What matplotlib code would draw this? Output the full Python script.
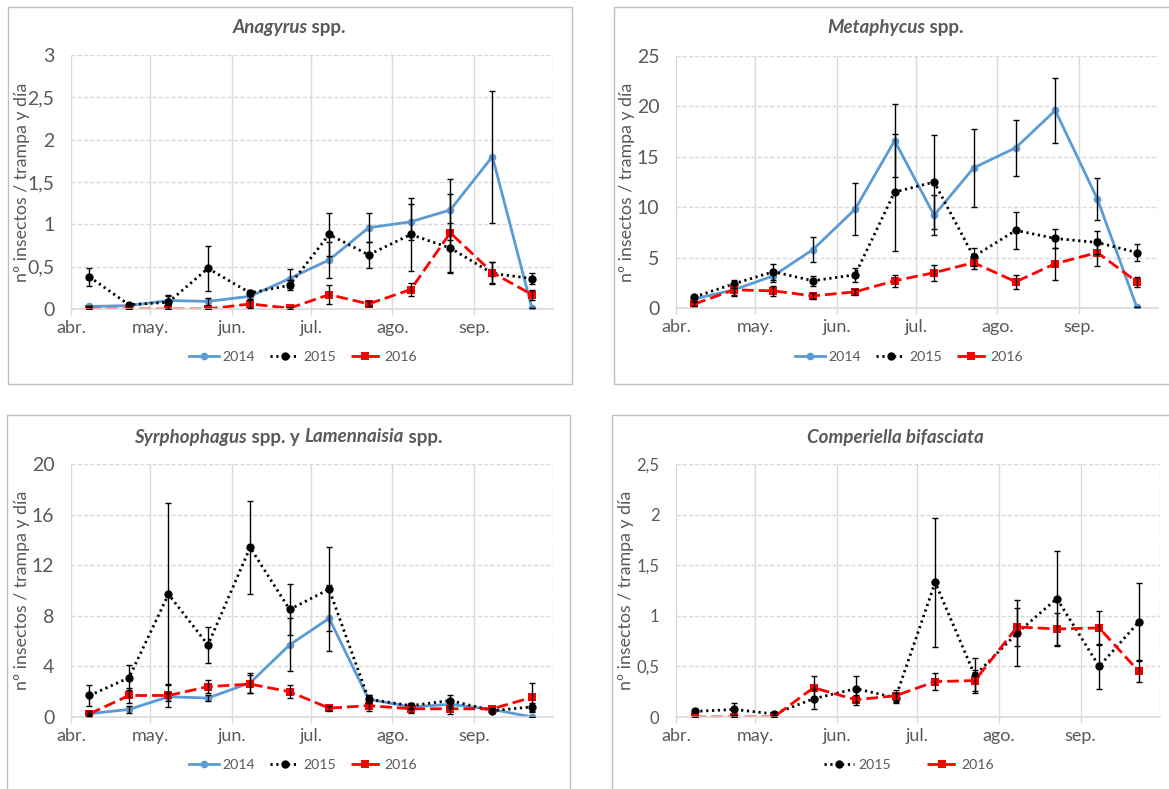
import matplotlib
matplotlib.use("Agg")
import matplotlib.pyplot as plt
import numpy as np
from matplotlib.patches import Rectangle

# sampling dates (dummy year, only month/day matter)
dates = np.array(["2015-04-08", "2015-04-23", "2015-05-08", "2015-05-23",
                  "2015-06-08", "2015-06-23", "2015-07-08", "2015-07-23",
                  "2015-08-08", "2015-08-23", "2015-09-08", "2015-09-23"],
                 dtype="datetime64[D]")
month_labels = ["abr.", "may.", "jun.", "jul.", "ago.", "sep."]

# Anagyrus spp.
ana_2014 = [0.03, 0.04, 0.10, 0.09, 0.15, 0.36, 0.58, 0.96, 1.03, 1.17, 1.80, 0.01]
ana_2014_err = [0.01, 0.01, 0.05, 0.04, 0.03, 0.11, 0.21, 0.17, 0.21, 0.36, 0.78, 0.0]
ana_2015 = [0.38, 0.05, 0.08, 0.48, 0.19, 0.28, 0.88, 0.64, 0.88, 0.72, 0.42, 0.36]
ana_2015_err = [0.11, 0.02, 0.08, 0.27, 0.04, 0.06, 0.25, 0.15, 0.43, 0.30, 0.13, 0.07]
ana_2016 = [0.0, 0.0, 0.0, 0.0, 0.06, 0.01, 0.17, 0.06, 0.23, 0.90, 0.43, 0.17]
ana_2016_err = [0.0, 0.0, 0.0, 0.0, 0.05, 0.01, 0.11, 0.03, 0.08, 0.46, 0.12, 0.06]

# Metaphycus spp.
met_2014 = [0.9, 1.8, 3.2, 5.8, 9.8, 16.6, 9.2, 13.9, 15.9, 19.6, 10.8, 0.05]
met_2014_err = [0.2, 0.5, 0.6, 1.2, 2.6, 3.6, 2.0, 3.9, 2.8, 3.2, 2.1, 0.0]
met_2015 = [1.1, 2.4, 3.6, 2.7, 3.3, 11.5, 12.5, 5.1, 7.7, 6.9, 6.5, 5.5]
met_2015_err = [0.2, 0.4, 0.8, 0.5, 0.7, 5.8, 4.7, 0.9, 1.8, 0.9, 1.1, 0.8]
met_2016 = [0.4, 1.8, 1.7, 1.2, 1.6, 2.7, 3.5, 4.5, 2.6, 4.4, 5.5, 2.6]
met_2016_err = [0.2, 0.6, 0.5, 0.3, 0.3, 0.6, 0.8, 0.6, 0.7, 1.6, 1.3, 0.5]

# Syrphophagus spp. y Lamennaisia spp.
syr_2014 = [0.26, 0.6, 1.6, 1.5, 2.7, 5.7, 7.8, 1.4, 0.8, 1.0, 0.6, 0.0]
syr_2014_err = [0.2, 0.3, 0.3, 0.2, 0.8, 2.1, 2.6, 0.3, 0.2, 0.3, 0.1, 0.0]
syr_2015 = [1.7, 3.1, 9.7, 5.7, 13.4, 8.5, 10.1, 1.4, 0.9, 1.3, 0.5, 0.8]
syr_2015_err = [0.8, 1.0, 7.2, 1.4, 3.7, 2.0, 3.3, 0.3, 0.2, 0.4, 0.1, 0.3]
syr_2016 = [0.25, 1.7, 1.7, 2.4, 2.6, 2.0, 0.7, 0.9, 0.65, 0.65, 0.65, 1.55]
syr_2016_err = [0.1, 0.6, 0.9, 0.5, 0.7, 0.5, 0.2, 0.4, 0.3, 0.45, 0.1, 1.15]

# Comperiella bifasciata
com_2015 = [0.055, 0.075, 0.03, 0.18, 0.28, 0.19, 1.33, 0.41, 0.83, 1.17, 0.50, 0.94]
com_2015_err = [0.02, 0.06, 0.01, 0.10, 0.13, 0.05, 0.64, 0.17, 0.33, 0.47, 0.22, 0.38]
com_2016 = [0.0, 0.0, 0.0, 0.29, 0.17, 0.21, 0.35, 0.36, 0.89, 0.87, 0.88, 0.45]
com_2016_err = [0.0, 0.0, 0.0, 0.12, 0.05, 0.06, 0.08, 0.10, 0.19, 0.16, 0.17, 0.10]

plt.rcParams["font.family"] = ["Lato", "DejaVu Sans"]
GREY = "#595959"
GRID = "#D9D9D9"
W, H = 1169, 789

STYLE = {
    "2014": dict(color="#5B9BD5", linestyle="-", linewidth=2.0, marker="o",
                 markersize=5.5),
    "2015": dict(color="black", linestyle=(0, (0.8, 1.3)), linewidth=2.0,
                 marker="o", markersize=6),
    "2016": dict(color="#FF0000", linestyle=(0, (4.2, 1.8)), linewidth=2.0,
                 marker="s", markersize=6),
}


def fig_box(x0, y0, x1, y1):
    return [x0 / W, 1 - y1 / H, (x1 - x0) / W, (y1 - y0) / H]


def draw_title(fig, pieces, cx, cy):
    # title with mixed italic / upright parts, centred as a whole
    r = fig.canvas.get_renderer()
    texts = []
    for s, it in pieces:
        t = fig.text(0, 1 - cy / H, s, fontsize=13.5, fontweight="bold",
                     style="italic" if it else "normal", color=GREY,
                     ha="left", va="center")
        texts.append(t)
    widths = [t.get_window_extent(r).width for t in texts]
    x = cx - sum(widths) / 2
    for t, w in zip(texts, widths):
        t.set_x(x / W)
        x += w


def panel(fig, axbox, frame, title, title_xy, series, yticks, ylabels,
          leg_xy, colspacing, tick_fs=13):
    fig.add_artist(Rectangle((frame[0] / W, 1 - frame[3] / H),
                             (frame[2] - frame[0]) / W, (frame[3] - frame[1]) / H,
                             transform=fig.transFigure, fill=False,
                             edgecolor="#BFBFBF", linewidth=1.0))
    ax = fig.add_axes(fig_box(*axbox))
    months = np.arange("2015-04", "2015-11", dtype="datetime64[M]").astype("datetime64[D]")
    for m in months[:-1]:
        ax.axvline(m, color=GRID, linewidth=1.0, zorder=0)
    ax.axvline(months[-1], color=GRID, linewidth=1.0, linestyle=(0, (3, 1.5)), zorder=0)
    for y in yticks[1:]:
        ax.axhline(y, color=GRID, linewidth=1.0, linestyle=(0, (3, 1.5)), zorder=0)

    for year, vals, err in series:
        st = STYLE[year]
        ax.errorbar(dates, vals, yerr=err, fmt="none", ecolor="black",
                    elinewidth=1.0, capsize=2.5, capthick=1.0, zorder=3)
        ax.plot(dates, vals, label=year, zorder=2, markeredgewidth=0, **st)

    ax.set_xlim(months[0], months[-1])
    ax.set_ylim(yticks[0], yticks[-1])
    ax.set_xticks(months[:-1])
    ax.set_xticklabels(month_labels)
    ax.set_yticks(yticks)
    ax.set_yticklabels(ylabels)
    for s in ["top", "right", "left"]:
        ax.spines[s].set_visible(False)
    ax.spines["bottom"].set_color(GRID)
    ax.spines["bottom"].set_linewidth(1.2)
    ax.tick_params(axis="x", colors=GRID, length=4, width=1.0, labelcolor=GREY,
                   labelsize=13, pad=4)
    ax.tick_params(axis="y", length=0, labelcolor=GREY, labelsize=tick_fs, pad=12)
    ax.set_ylabel("nº insectos / trampa y día", color=GREY, fontsize=12.8)
    ax.yaxis.set_label_coords(-0.086, 0.5)
    ax.patch.set_alpha(0)

    draw_title(fig, title, *title_xy)
    ax.legend(loc="center", bbox_to_anchor=(leg_xy[0] / W, 1 - leg_xy[1] / H),
              bbox_transform=fig.transFigure, ncol=len(series), frameon=False,
              fontsize=10.2, labelcolor=GREY, handlelength=2.1, handletextpad=0.3,
              columnspacing=colspacing)
    return ax


fig = plt.figure(figsize=(W / 100, H / 100), dpi=100)

panel(fig, (71, 55, 553, 309), (8, 7, 572, 384),
      [("Anagyrus", True), (" spp.", False)], (289, 28),
      [("2014", ana_2014, ana_2014_err), ("2015", ana_2015, ana_2015_err),
       ("2016", ana_2016, ana_2016_err)],
      [0, 0.5, 1, 1.5, 2, 2.5, 3], ["0", "0,5", "1", "1,5", "2", "2,5", "3"],
      (303, 357), 1.0, tick_fs=14)

panel(fig, (676, 56, 1158, 308), (614, 7, 1176, 384),
      [("Metaphycus", True), (" spp.", False)], (895, 28),
      [("2014", met_2014, met_2014_err), ("2015", met_2015, met_2015_err),
       ("2016", met_2016, met_2016_err)],
      [0, 5, 10, 15, 20, 25], ["0", "5", "10", "15", "20", "25"],
      (909, 357), 1.0, tick_fs=14)

panel(fig, (71, 464, 553, 717), (7, 415, 570, 795),
      [("Syrphophagus", True), (" spp. y ", False), ("Lamennaisia", True),
       (" spp.", False)], (288, 437),
      [("2014", syr_2014, syr_2014_err), ("2015", syr_2015, syr_2015_err),
       ("2016", syr_2016, syr_2016_err)],
      [0, 4, 8, 12, 16, 20], ["0", "4", "8", "12", "16", "20"],
      (303, 765), 1.0, tick_fs=14)

panel(fig, (676, 464, 1160, 717), (612, 415, 1176, 795),
      [("Comperiella bifasciata", True)], (895, 437),
      [("2015", com_2015, com_2015_err), ("2016", com_2016, com_2016_err)],
      [0, 0.5, 1, 1.5, 2, 2.5], ["0", "0,5", "1", "1,5", "2", "2,5"],
      (909, 765), 2.6, tick_fs=12)

fig.savefig("out.png", dpi=100)
